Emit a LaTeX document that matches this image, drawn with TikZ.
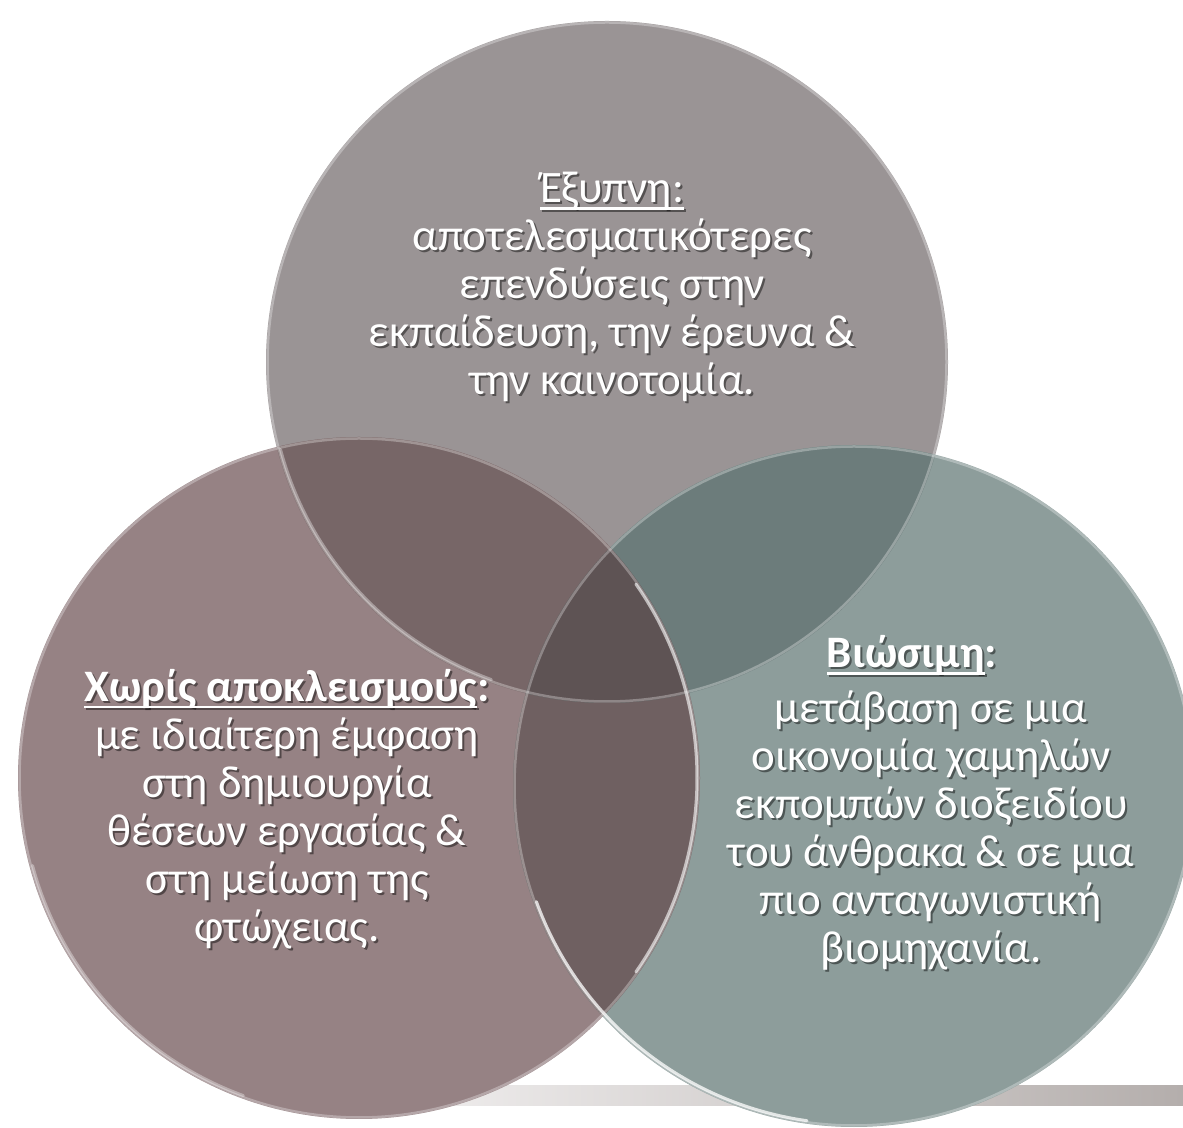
\documentclass[tikz,border=0pt]{standalone}
\usepackage{fontspec}
\setmainfont{Carlito}
\usetikzlibrary{calc}
\definecolor{cTop}{HTML}{9A9495}
\definecolor{cLeft}{HTML}{968284}
\definecolor{cRight}{HTML}{8D9D9B}
\definecolor{cTL}{HTML}{776667}
\definecolor{cTR}{HTML}{6C7C7B}
\definecolor{cLR}{HTML}{6F6061}
\definecolor{cTri}{HTML}{5E5354}
\definecolor{barL}{HTML}{F2F0F0}
\definecolor{barR}{HTML}{B4AEAC}
\newcommand\myul[1]{\setbox0=\hbox{#1}\rlap{\rule[-7pt]{\wd0}{2.4pt}}\box0}
\newcommand\TxtTop{\myul{Έξυπνη:}\\αποτελεσματικότερες\\επενδύσεις στην\\εκπαίδευση, την έρευνα \&\\την καινοτομία.}
\newcommand\TxtLeft{\textbf{\myul{Χωρίς αποκλεισμούς}:}\\με ιδιαίτερη έμφαση\\στη δημιουργία\\θέσεων εργασίας \&\\στη μείωση της\\φτώχειας.}
\newcommand\TxtRightHead{\textbf{\myul{Βιώσιμη}:}}
\newcommand\TxtRight{μετάβαση σε μια\\οικονομία χαμηλών\\εκπομπών διοξειδίου\\του άνθρακα \& σε μια\\πιο ανταγωνιστική\\βιομηχανία.}
\tikzset{
  txt/.style={text=white, font=\fontsize{45}{48}\selectfont, align=center, inner sep=0pt},
  shd/.style={txt, text=black, text opacity=0.45},
  rim/.style={draw=white, draw opacity=0.3, line width=2.5pt},
  gleam/.style={draw=white, draw opacity=0.75, line width=3pt, line cap=round},
}
\begin{document}
\begin{tikzpicture}[x=1pt,y=1pt]
\useasboundingbox (0,0) rectangle (1183,1127);
\coordinate (T) at (607,765);
\coordinate (L) at (359,349);
\coordinate (R) at (854,341);
% background bar
\shade[left color=barL, right color=barR] (380,22) rectangle (1183,42);
% circles
\fill[cTop] (T) circle (341);
\fill[cLeft] (L) circle (341);
\fill[cRight] (R) circle (341);
\begin{scope}
  \clip (L) circle (341);
  \fill[cLR] (R) circle (341);
\end{scope}
\begin{scope}
  \clip (T) circle (341);
  \fill[cTL] (L) circle (341);
  \fill[cTR] (R) circle (341);
  \clip (L) circle (341);
  \fill[cTri] (R) circle (341);
\end{scope}
% rims
\draw[rim] (T) circle (339.5);
\draw[rim] (L) circle (339.5);
\draw[rim] (R) circle (339.5);
\draw[gleam] ($(R)+(200:338)$) arc (200:262:338);
\draw[gleam, draw opacity=0.6] ($(L)+(-35:338)$) arc (-35:35:338);
\draw[gleam, draw opacity=0.35] ($(L)+(195:338)$) arc (195:250:338);
\draw[gleam, draw opacity=0.35] ($(T)+(195:338)$) arc (195:250:338);
% texts
\node[shd] (tTopS) at (614,838) {\TxtTop};
\node[txt] (tTop) at (612,840) {\TxtTop};
\node[shd] (tLeftS) at (289,316) {\TxtLeft};
\node[txt] (tLeft) at (287,318) {\TxtLeft};
\node[shd] (tRightHS) at (914,470) {\TxtRightHead};
\node[txt] (tRightH) at (912,472) {\TxtRightHead};
\node[shd] (tRightS) at (933,294) {\TxtRight};
\node[txt] (tRight) at (931,296) {\TxtRight};
\end{tikzpicture}
\end{document}
